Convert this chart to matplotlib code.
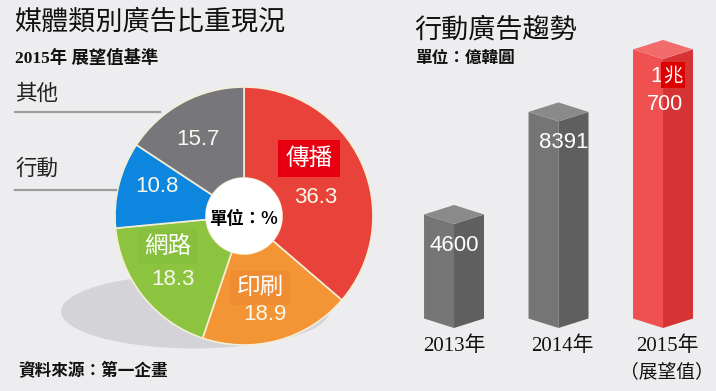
"""Ad share by media type (donut) and mobile ad trend (3D-style bars)."""

import matplotlib
matplotlib.use('Agg')
import matplotlib.pyplot as plt
from matplotlib.patches import Polygon, Ellipse, Circle
from matplotlib.lines import Line2D
import numpy as np

CJK = 'Noto Sans CJK TC'
plt.rcParams['font.family'] = [CJK, 'DejaVu Sans']
NUM = ['Liberation Sans', CJK]
SERIF = ['Liberation Serif', CJK]

# donut data (share in %, 2015 forecast)
pie_labels = ['傳播', '印刷', '網路', '行動', '其他']
pie_values = [36.3, 18.9, 18.3, 10.8, 15.7]
pie_colors = ['#e8423a', '#f39535', '#8cc440', '#0d86e0', '#77777b']

# mobile ad spend (100M KRW)
years = ['2013年', '2014年', '2015年']
mobile_ad = [4600, 8391, 10700]
bar_faces = [('#757575', '#5f5f5f', '#8a8a8a'),
             ('#757575', '#5f5f5f', '#8a8a8a'),
             ('#ef5050', '#d63434', '#f26c6c')]

W, H = 716, 391
BG = '#ededef'


def fx(x):
    return x / W


def fy(y):
    return 1 - y / H


fig = plt.figure(figsize=(W / 100, H / 100), dpi=100, facecolor=BG)

# ---------- donut ----------
cx, cy, r = 244, 216, 129
ax_pie = fig.add_axes([fx(cx - r), fy(cy + r), 2 * r / W, 2 * r / H])
ax_pie.add_patch(Ellipse((-0.38, -0.74), 268 / r, 74 / r, facecolor='#d4d4d8',
                         edgecolor='none', zorder=0, clip_on=False))
ax_pie.pie(pie_values, colors=pie_colors, startangle=90, counterclock=False,
           radius=1, wedgeprops=dict(width=1 - 38 / r, edgecolor='#f3eed5', linewidth=1.2))
ax_pie.add_patch(Circle((0, 0), 38 / r, facecolor='white', edgecolor='none', zorder=3))
ax_pie.set_xlim(-1, 1)
ax_pie.set_ylim(-1, 1)
ax_pie.set_aspect('equal')
ax_pie.axis('off')

# label positions inside the wedges (layout only)
name_pos = {'傳播': (0.504, 0.446), '印刷': (0.124, -0.558), '網路': (-0.593, -0.236)}
value_pos = [(0.558, 0.147), (0.159, -0.767), (-0.547, -0.496), (-0.674, 0.225), (-0.36, 0.59)]
name_box = {'傳播': ('#e60012', 0.3), '印刷': ('#f08d33', 0.25), '網路': ('#87c03c', 0.25)}

for lab, val, (vx, vy) in zip(pie_labels, pie_values, value_pos):
    ax_pie.text(vx, vy, f'{val}', family=NUM, fontsize=16, color='#f8f8ec',
                ha='center', va='center', zorder=4)
    if lab in name_pos:
        nx, ny = name_pos[lab]
        bc, pad = name_box[lab]
        ax_pie.text(nx, ny, lab, fontsize=17, color='white', ha='center', va='center',
                    zorder=4, bbox=dict(boxstyle=f'square,pad={pad}', facecolor=bc,
                                        edgecolor='none'))
ax_pie.text(-0.008, -0.02, '單位：%', fontsize=12.5, fontweight='bold', color='black',
            ha='center', va='center', zorder=4)

# side labels for small slices
fig.text(fx(15), fy(94), '其他', fontsize=15.5, ha='left', va='center', color='#222222')
fig.add_artist(Line2D([fx(15), fx(160)], [fy(112), fy(112)], color='#9c9c9c', lw=1.6))
fig.text(fx(15), fy(169), '行動', fontsize=15.5, ha='left', va='center', color='#222222')
fig.add_artist(Line2D([fx(15), fx(116)], [fy(190), fy(190)], color='#9c9c9c', lw=1.6))

fig.text(fx(14), fy(22), '媒體類別廣告比重現況', fontsize=19.5, ha='left', va='center',
         color='#111111')
fig.text(fx(15), fy(58), '2015年 展望值基準', family=SERIF, fontsize=12.5,
         fontweight='bold', ha='left', va='center', color='#111111')
fig.text(fx(18), fy(371), '資料來源：第一企畫', fontsize=12, fontweight='bold',
         ha='left', va='center', color='#111111')

# ---------- 3D-style bars ----------
base = 754
ax_bar = fig.add_axes([fx(400), fy(328), 316 / W, 298 / H])
ax_bar.set_xlim(-0.517, 2.507)
ax_bar.set_ylim(base, base + 298 / 0.02705)
ax_bar.axis('off')

hw = 0.287
d = 351
x = np.arange(len(mobile_ad))
for xc, v, (c_left, c_right, c_top) in zip(x, mobile_ad, bar_faces):
    left = [(xc - hw, base + d), (xc, base), (xc, v), (xc - hw, v + d)]
    right = [(xc, base), (xc + hw, base + d), (xc + hw, v + d), (xc, v)]
    top = [(xc - hw, v + d), (xc, v), (xc + hw, v + d), (xc, v + 2 * d)]
    for pts, c in [(left, c_left), (right, c_right), (top, c_top)]:
        ax_bar.add_patch(Polygon(pts, closed=True, facecolor=c, edgecolor='none',
                                 clip_on=False))

fig.text(fx(454), fy(246), f'{mobile_ad[0]}', family=NUM, fontsize=16, color='white',
         ha='center', va='center')
fig.text(fx(564), fy(143), f'{mobile_ad[1]}', family=NUM, fontsize=16, color='white',
         ha='center', va='center')
fig.text(fx(656), fy(76), '1', family=NUM, fontsize=16, color='white',
         ha='center', va='center')
fig.text(fx(673), fy(75), '兆', fontsize=14, color='white', ha='center', va='center',
         bbox=dict(boxstyle='square,pad=0.12', facecolor='#dd0000', edgecolor='none'))
fig.text(fx(665), fy(104), f'{mobile_ad[2] - 10000}', family=NUM, fontsize=15.5,
         color='white', ha='center', va='center')

for xp, yr in zip([454, 562, 667], years):
    fig.text(fx(xp), fy(346), yr, family=SERIF, fontsize=15, ha='center', va='center',
             color='#111111')
fig.text(fx(667), fy(372), '（展望值）', family=SERIF, fontsize=13.5, ha='center',
         va='center', color='#111111')

fig.text(fx(414), fy(30), '行動廣告趨勢', fontsize=19.5, ha='left', va='center',
         color='#111111')
fig.text(fx(415), fy(58), '單位：億韓圓', fontsize=12, fontweight='bold', ha='left',
         va='center', color='#111111')

plt.savefig('out.png', dpi=100, facecolor=BG)
print("Saved: out.png")
